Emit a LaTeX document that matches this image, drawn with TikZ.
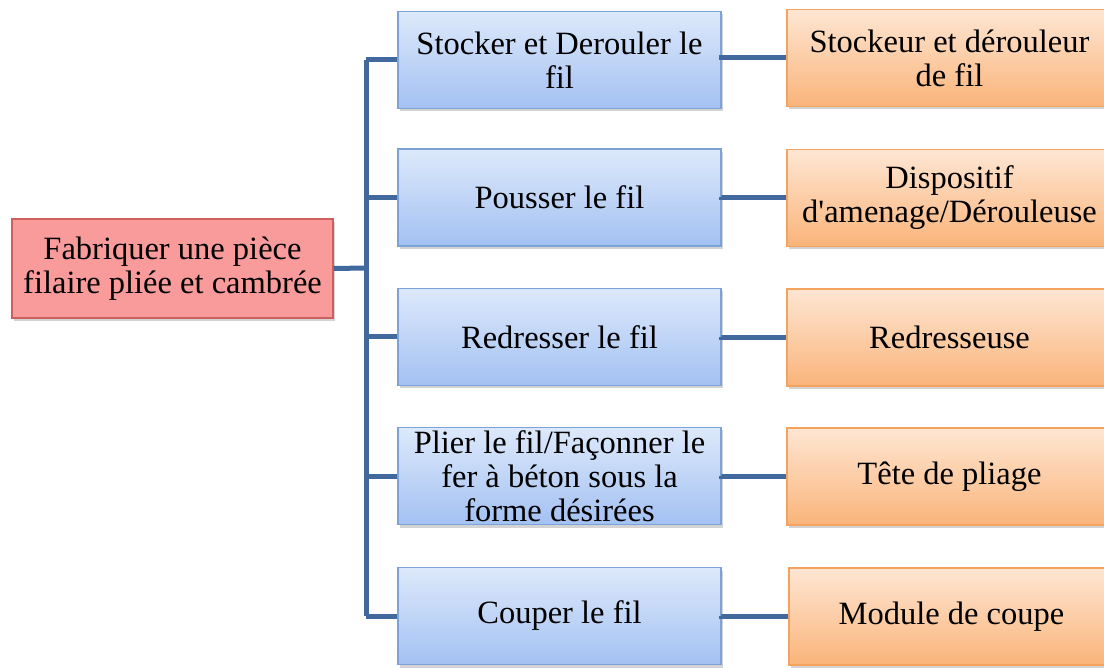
\documentclass[tikz,border=0pt]{standalone}
\usepackage{fontspec}
\setmainfont{Liberation Serif}
\usetikzlibrary{shadows}

\definecolor{linkblue}{HTML}{41699D}
\definecolor{rootfill}{HTML}{F99B9B}
\definecolor{rootline}{HTML}{CD5F5C}
\definecolor{functop}{HTML}{DDE9FB}
\definecolor{funcbot}{HTML}{A3C1F2}
\definecolor{funcline}{HTML}{7BA3D8}
\definecolor{soltop}{HTML}{FEE6D3}
\definecolor{solbot}{HTML}{FAB47A}
\definecolor{solline}{HTML}{F3A35E}

\begin{document}
\begin{tikzpicture}[x=1pt, y=-1pt,
    box/.style={align=center, line width=1.5pt, inner sep=0pt,
        font=\fontsize{32.5}{34}\selectfont,
        drop shadow={shadow xshift=2pt, shadow yshift=-3pt, opacity=0.35}},
    rootbox/.style={box, draw=rootline, fill=rootfill, minimum width=321pt, minimum height=99pt},
    funcbox/.style={box, draw=funcline, top color=functop, bottom color=funcbot, minimum width=323pt, minimum height=97pt},
    solbox/.style={box, draw=solline, top color=soltop, bottom color=solbot, minimum width=325pt, minimum height=97pt},
    link/.style={draw=linkblue, line width=5pt}]
    \useasboundingbox (0,0) rectangle (1104,668);

    % main function
    \node[rootbox] (root) at (172.5,268.5) {Fabriquer une pièce\\filaire pliée et cambrée};

    % sub-functions
    \node[funcbox] (f1) at (559.5,60) {Stocker et Derouler le\\fil};
    \node[funcbox] (f2) at (559.5,197.5) {Pousser le fil};
    \node[funcbox] (f3) at (559.5,337) {Redresser le fil};
    \node[funcbox] (f4) at (559.5,476) {Plier le fil/Façonner le\\fer à béton sous la\\forme désirées};
    \node[funcbox] (f5) at (559.5,616) {Couper le fil};

    % technical solutions
    \node[solbox] (s1) at (949.5,58) {Stockeur et dérouleur\\de fil};
    \node[solbox] (s2) at (949.5,198) {Dispositif\\d\textquotesingle amenage/Dérouleuse};
    \node[solbox] (s3) at (949.5,337.5) {Redresseuse};
    \node[solbox] (s4) at (949.5,476.5) {Tête de pliage};
    \node[solbox] (s5) at (951.5,616.5) {Module de coupe};

    % links
    \coordinate (trunk) at (366,268);
    \draw[link] (root.east) -- (trunk);
    \draw[link] (f1.west -| trunk) -- (f5.west -| trunk);
    \foreach \i in {1,...,5} {
        \draw[link] (f\i.west -| trunk) -- (f\i.west);
        \draw[link] (f\i.east) -- (f\i.east |- s\i.west) -- (s\i.west);
    }
\end{tikzpicture}
\end{document}
